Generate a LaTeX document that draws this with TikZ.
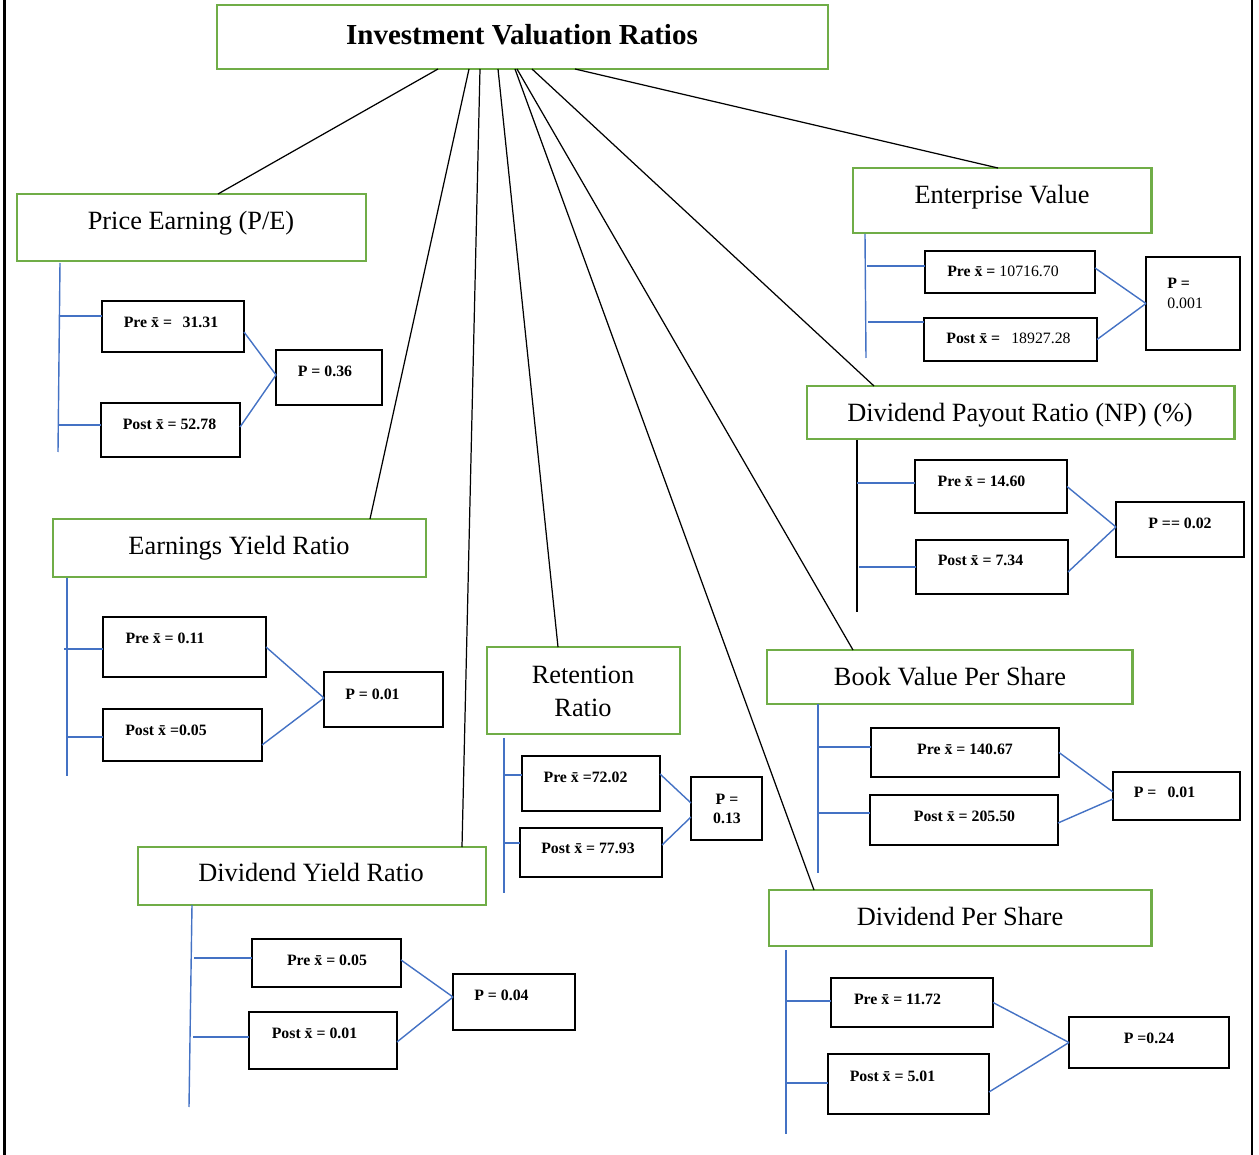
\documentclass[tikz,border=0pt]{standalone}
\usepackage{fontspec}
\setmainfont{Liberation Serif}
\usetikzlibrary{calc}
\definecolor{catgreen}{HTML}{70AD47}
\definecolor{linkblue}{HTML}{4472C4}

% rectangle node from its corner coordinates: style, name, x1, y1, x2, y2
\newcommand\placebox[6]{\node[#1, minimum width={(#5-#3)*0.02cm}, minimum height={(#6-#4)*0.02cm}] (#2) at ({(#3+#5)/2},{(#4+#6)/2}) {};}

\begin{document}
\begin{tikzpicture}[x=0.02cm, y=-0.02cm,
  catbox/.style={rectangle, draw=catgreen, line width=1.7pt, inner sep=0pt, outer sep=0pt},
  valbox/.style={rectangle, draw=black, line width=1.6pt, inner sep=0pt, outer sep=0pt},
  titletext/.style={font=\fontsize{16.5}{19}\selectfont\bfseries, inner sep=0pt, text height=11pt, text depth=0pt},
  cattext/.style={font=\fontsize{15}{18}\selectfont, inner sep=0pt, text height=10pt, text depth=0pt},
  valtext/.style={font=\fontsize{9}{11}\selectfont\bfseries, inner sep=0pt, text height=6pt, text depth=0pt},
  link/.style={draw=black, line width=0.7pt},
  stemline/.style={draw=linkblue, line width=0.8pt},
  blackstem/.style={draw=black, line width=0.6pt}]
\useasboundingbox (0,0) rectangle (1259,1155);

% side rules of the frame
\draw[line width=1.3pt] (4.5,0) -- (4.5,1155);
\draw[line width=1.3pt] (1252,0) -- (1252,1155);

% title
\placebox{catbox}{title}{217}{5}{828}{69}
\node[titletext] (titlelbl) at (522,35) {Investment Valuation Ratios};

% ratio categories
\placebox{catbox}{pe}{17}{194}{366}{261}
\node[cattext] (pelbl) at (191,221) {Price Earning (P/E)};
\placebox{catbox}{ev}{853}{168}{1151}{233}
\node[cattext] (evlbl) at (1002,195) {Enterprise Value};
\placebox{catbox}{dpr}{807}{386}{1234}{439}
\node[cattext] (dprlbl) at (1020,413) {Dividend Payout Ratio (NP) (\%)};
\placebox{catbox}{ey}{53}{519}{426}{577}
\node[cattext] (eylbl) at (239,546) {Earnings Yield Ratio};
\placebox{catbox}{rr}{487}{647}{680}{734}
\node[cattext] (rrlblA) at (583,675) {Retention};
\node[cattext] (rrlblB) at (583,708) {Ratio};
\placebox{catbox}{bv}{767}{650}{1132}{704}
\node[cattext] (bvlbl) at (950,677) {Book Value Per Share};
\placebox{catbox}{dy}{138}{847}{486}{905}
\node[cattext] (dylbl) at (311,873) {Dividend Yield Ratio};
\placebox{catbox}{dps}{769}{890}{1151}{946}
\node[cattext] (dpslbl) at (960,917) {Dividend Per Share};

% links from the title to every category
\draw[link] ([shift={(221,0)}]title.south west) -- ([shift={(201,0)}]pe.north west);
\draw[link] ([shift={(252,0)}]title.south west) -- ([shift={(317,0)}]ey.north west);
\draw[link] ([shift={(263,0)}]title.south west) -- ([shift={(324,0)}]dy.north west);
\draw[link] ([shift={(281,0)}]title.south west) -- ([shift={(71,0)}]rr.north west);
\draw[link] ([shift={(298,0)}]title.south west) -- ([shift={(45,0)}]dps.north west);
\draw[link] ([shift={(300,0)}]title.south west) -- ([shift={(86,0)}]bv.north west);
\draw[link] ([shift={(315,0)}]title.south west) -- ([shift={(67,0)}]dpr.north west);
\draw[link] ([shift={(358,0)}]title.south west) -- ([shift={(145,0)}]ev.north west);

% ---- Price Earning
\placebox{valbox}{pePre}{102}{301}{244}{352}
\placebox{valbox}{pePost}{101}{403}{240}{457}
\placebox{valbox}{peP}{276}{350}{382}{405}
\node[valtext] (pePreT) at (171,322) {Pre x̄ =\hspace{0.67em}31.31};
\node[valtext] (pePostT) at (169.5,424) {Post x̄ = 52.78};
\node[valtext] (pePT) at (325,371) {P = 0.36};
\coordinate (peEnd) at (58,452);
\draw[stemline] ([shift={(43,2)}]pe.south west) -- (peEnd);
\draw[stemline] ([shift={(0,-10.5)}]pePre.west) -- +(-42,0);
\draw[stemline] ([shift={(0,-5)}]pePost.west) -- +(-43,0);
\draw[stemline] ([shift={(0,5.5)}]pePre.east) -- ([shift={(0,-2.5)}]peP.west);
\draw[stemline] ([shift={(0,-3)}]pePost.east) -- ([shift={(0,-2.5)}]peP.west);

% ---- Enterprise Value
\placebox{valbox}{evPre}{925}{251}{1095}{293}
\placebox{valbox}{evPost}{924}{318}{1097}{361}
\placebox{valbox}{evP}{1146}{257}{1240}{350}
\node[valtext] (evPreT) at (1003,271) {Pre x̄ = \textmd{10716.70}};
\node[valtext] (evPostT) at (1008.5,338) {Post x̄ =\hspace{0.7em}\textmd{18927.28}};
\node[valtext, anchor=west] (evPTa) at (1167,283) {P =};
\node[valtext, anchor=west] (evPTb) at (1167,303) {\textmd{0.001}};
\coordinate (evEnd) at (866,358);
\draw[stemline] ([shift={(12,1)}]ev.south west) -- (evEnd);
\draw[stemline] ([shift={(0,-6)}]evPre.west) -- +(-58,0);
\draw[stemline] ([shift={(0,-17.5)}]evPost.west) -- +(-56,0);
\draw[stemline] ([shift={(0,-4)}]evPre.east) -- (evP.west);
\draw[stemline] (evPost.east) -- (evP.west);

% ---- Dividend Payout Ratio
\placebox{valbox}{dprPre}{915}{460}{1067}{513}
\placebox{valbox}{dprPost}{916}{540}{1068}{594}
\placebox{valbox}{dprP}{1116}{502}{1244}{557}
\node[valtext] (dprPreT) at (981.5,481) {Pre x̄ = 14.60};
\node[valtext] (dprPostT) at (980.5,560) {Post x̄ = 7.34};
\node[valtext] (dprPT) at (1180,523) {P == 0.02};
\coordinate (dprEnd) at (857,612);
\draw[blackstem] ([shift={(50,1)}]dpr.south west) -- (dprEnd);
\draw[stemline] ([shift={(0,-3.5)}]dprPre.west) -- +(-58,0);
\draw[stemline] (dprPost.west) -- +(-57,0);
\draw[stemline] (dprPre.east) -- ([shift={(0,-2.5)}]dprP.west);
\draw[stemline] ([shift={(0,5)}]dprPost.east) -- ([shift={(0,-2.5)}]dprP.west);

% ---- Earnings Yield Ratio
\placebox{valbox}{eyPre}{103}{617}{266}{677}
\placebox{valbox}{eyPost}{103}{709}{262}{761}
\placebox{valbox}{eyP}{324}{672}{443}{727}
\node[valtext] (eyPreT) at (165,638) {Pre x̄ = 0.11};
\node[valtext] (eyPostT) at (166,730) {Post x̄ =0.05};
\node[valtext] (eyPT) at (372.5,694) {P = 0.01};
\coordinate (eyEnd) at (67,776);
\draw[stemline] ([shift={(14,1)}]ey.south west) -- (eyEnd);
\draw[stemline] ([shift={(0,2)}]eyPre.west) -- +(-39,0);
\draw[stemline] ([shift={(0,2)}]eyPost.west) -- +(-37,0);
\draw[stemline] (eyPre.east) -- ([shift={(0,-1.5)}]eyP.west);
\draw[stemline] ([shift={(0,10)}]eyPost.east) -- ([shift={(0,-1.5)}]eyP.west);

% ---- Retention Ratio
\placebox{valbox}{rrPre}{522}{756}{660}{811}
\placebox{valbox}{rrPost}{520}{828}{662}{877}
\placebox{valbox}{rrP}{691}{777}{762}{840}
\node[valtext] (rrPreT) at (585.5,777) {Pre x̄ =72.02};
\node[valtext] (rrPostT) at (588,848) {Post x̄ = 77.93};
\node[valtext] (rrPTa) at (727,799) {P =};
\node[valtext] (rrPTb) at (727,818) {0.13};
\coordinate (rrEnd) at (504,893);
\draw[stemline] ([shift={(17,4)}]rr.south west) -- (rrEnd);
\draw[stemline] ([shift={(0,-8.5)}]rrPre.west) -- +(-19,0);
\draw[stemline] ([shift={(0,-9.5)}]rrPost.west) -- +(-17,0);
\draw[stemline] ([shift={(0,-9.5)}]rrPre.east) -- ([shift={(0,-5.5)}]rrP.west);
\draw[stemline] ([shift={(0,-7.5)}]rrPost.east) -- ([shift={(0,8.5)}]rrP.west);

% ---- Book Value Per Share
\placebox{valbox}{bvPre}{871}{728}{1059}{777}
\placebox{valbox}{bvPost}{870}{795}{1058}{845}
\placebox{valbox}{bvP}{1113}{772}{1240}{820}
\node[valtext] (bvPreT) at (965,749) {Pre x̄ = 140.67};
\node[valtext] (bvPostT) at (964.5,816) {Post x̄ = 205.50};
\node[valtext] (bvPT) at (1164.5,792) {P =\hspace{0.7em}0.01};
\coordinate (bvEnd) at (818,873);
\draw[stemline] ([shift={(51,0)}]bv.south west) -- (bvEnd);
\draw[stemline] ([shift={(0,-5.5)}]bvPre.west) -- +(-53,0);
\draw[stemline] ([shift={(0,-7)}]bvPost.west) -- +(-52,0);
\draw[stemline] (bvPre.east) -- ([shift={(0,-4)}]bvP.west);
\draw[stemline] ([shift={(0,3)}]bvPost.east) -- ([shift={(0,3)}]bvP.west);

% ---- Dividend Yield Ratio
\placebox{valbox}{dyPre}{252}{939}{401}{987}
\placebox{valbox}{dyPost}{249}{1012}{397}{1069}
\placebox{valbox}{dyP}{453}{974}{575}{1030}
\node[valtext] (dyPreT) at (327,960) {Pre x̄ = 0.05};
\node[valtext] (dyPostT) at (314.5,1033) {Post x̄ = 0.01};
\node[valtext] (dyPT) at (501.5,995) {P = 0.04};
\coordinate (dyEnd) at (189,1107);
\draw[stemline] ([shift={(54,0)}]dy.south west) -- (dyEnd);
\draw[stemline] ([shift={(0,-5)}]dyPre.west) -- +(-58,0);
\draw[stemline] ([shift={(0,-3.5)}]dyPost.west) -- +(-56,0);
\draw[stemline] ([shift={(0,-3)}]dyPre.east) -- ([shift={(0,-5)}]dyP.west);
\draw[stemline] ([shift={(0,1.5)}]dyPost.east) -- ([shift={(0,-5)}]dyP.west);

% ---- Dividend Per Share
\placebox{valbox}{dpsPre}{831}{978}{993}{1027}
\placebox{valbox}{dpsPost}{828}{1054}{989}{1114}
\placebox{valbox}{dpsP}{1069}{1017}{1229}{1068}
\node[valtext] (dpsPreT) at (897.5,999) {Pre x̄ = 11.72};
\node[valtext] (dpsPostT) at (892.5,1076) {Post x̄ = 5.01};
\node[valtext] (dpsPT) at (1149,1038) {P =0.24};
\coordinate (dpsEnd) at (786,1134);
\draw[stemline] ([shift={(17,4)}]dps.south west) -- (dpsEnd);
\draw[stemline] ([shift={(0,-1.5)}]dpsPre.west) -- +(-45,0);
\draw[stemline] ([shift={(0,-1)}]dpsPost.west) -- +(-42,0);
\draw[stemline] (dpsPre.east) -- (dpsP.west);
\draw[stemline] ([shift={(0,8)}]dpsPost.east) -- (dpsP.west);
\end{tikzpicture}
\end{document}
